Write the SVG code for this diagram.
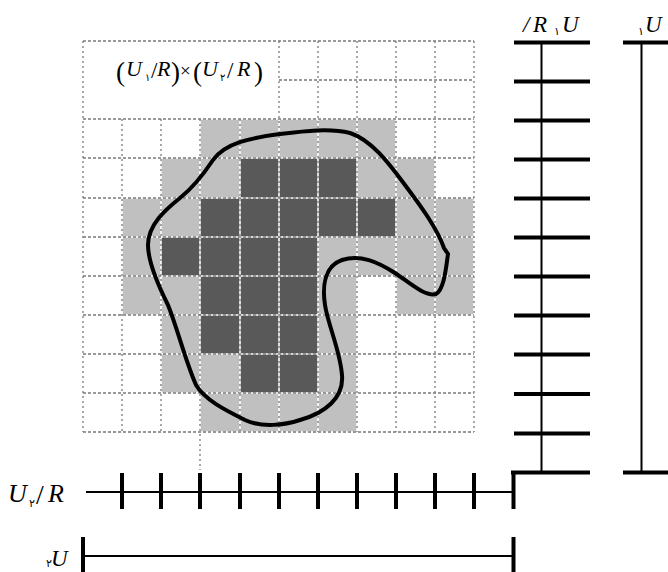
<svg xmlns="http://www.w3.org/2000/svg" width="668" height="572" viewBox="0 0 668 572">
<style>
.l{fill:#c0c0c0}
.d{fill:#595959}
.gw{stroke:#ffffff;stroke-width:1.6;fill:none}
.g{stroke:#7a7a7a;stroke-width:1.3;stroke-dasharray:3 2;fill:none}
.gv{stroke:#7a7a7a;stroke-width:1.3;stroke-dasharray:2 3;fill:none}
.ax{stroke:#000;stroke-width:2;fill:none}
.tk{stroke:#000;stroke-width:4;fill:none}
.t{font-family:"Liberation Serif","DejaVu Serif",serif;font-style:italic;fill:#000}
.p{font-family:"Liberation Serif","DejaVu Serif",serif;fill:#000}
.s{font-family:"DejaVu Sans","Noto Sans",sans-serif;fill:#000}
</style>
<rect width="668" height="572" fill="#fff"/>
<g id="cells">
<rect class="l" x="200" y="119" width="196" height="39"/>
<rect class="l" x="161" y="158" width="79" height="40"/>
<rect class="d" x="240" y="158" width="117" height="40"/>
<rect class="l" x="357" y="158" width="78" height="40"/>
<rect class="l" x="122" y="198" width="78" height="39"/>
<rect class="d" x="200" y="198" width="196" height="39"/>
<rect class="l" x="396" y="198" width="78" height="39"/>
<rect class="l" x="122" y="237" width="39" height="39"/>
<rect class="d" x="161" y="237" width="157" height="39"/>
<rect class="l" x="318" y="237" width="156" height="39"/>
<rect class="l" x="122" y="276" width="78" height="39"/>
<rect class="d" x="200" y="276" width="118" height="39"/>
<rect class="l" x="318" y="276" width="39" height="39"/>
<rect class="l" x="396" y="276" width="78" height="39"/>
<rect class="l" x="161" y="315" width="39" height="39"/>
<rect class="d" x="200" y="315" width="118" height="39"/>
<rect class="l" x="318" y="315" width="39" height="39"/>
<rect class="l" x="161" y="354" width="79" height="39"/>
<rect class="d" x="240" y="354" width="78" height="39"/>
<rect class="l" x="318" y="354" width="39" height="39"/>
<rect class="l" x="200" y="393" width="157" height="39"/>
</g>
<g id="grid">
<path class="gw" d="M83 119H474M83 158H474M83 198H474M83 237H474M83 276H474M83 315H474M83 354H474M83 393H474M83 432H474M122 119V432M161 119V432M200 119V432M240 119V432M279 119V432M318 119V432M357 119V432M396 119V432M435 119V432M474 119V432"/>
<path class="g" d="M83 41H474M279 80H474M83 119H474M83 158H474M83 198H474M83 237H474M83 276H474M83 315H474M83 354H474M83 393H474M83 432H474"/>
<path class="gv" d="M83 41V432M122 119V432M161 119V432M200 119V470M240 119V432M279 41V432M318 41V432M357 41V432M396 41V432M435 41V432M474 41V432"/>
</g>
<g id="region">
<path d="M213 160C225 143 250 138 280 134C305 131 330 128 350 133C372 140 390 165 405 185C420 205 437 228 444 248L448 254C446 268 444 290 436 294C425 297 410 283 395 273C378 262 360 254 342 260C325 266 322 285 325 305C328 325 340 350 342 375C344 398 325 413 300 420C285 425 262 428 245 420C225 410 205 400 196 385C185 360 178 330 168 305C158 285 148 262 148 245C148 225 165 210 180 198C195 186 205 172 213 160Z" fill="none" stroke="#000" stroke-width="4"/>
</g>
<g id="connectors">
<path class="ax" d="M541.5 42V472"/>
<path class="tk" d="M514 42.5H590M514 81.5H590M514 120.5H590M514 159.5H590M514 198.5H590M514 237.5H590M514 276.5H590M514 315.5H590M514 354.5H590M514 394H590M514 433.5H590M511 472.5H590"/>
<path class="tk" d="M513.5 472.5V509"/>
<path class="ax" d="M641.5 42V472"/>
<path class="tk" d="M623 42.5H668M623 472.5H668"/>
<path class="ax" d="M86 492H514"/>
<path class="tk" d="M122 473V509M161 473V509M200 473V509M240 473V509M279 473V509M318 473V509M357 473V509M396 473V509M435 473V509M474 473V509"/>
<path class="ax" d="M83 556H514"/>
<path class="tk" d="M83 537V572M513.5 537V572"/>
</g>
<g id="labels">
<text class="p" x="116" y="81" font-size="27">(</text>
<text class="t" x="126" y="76" font-size="22">U</text>
<text class="s" x="145" y="81" font-size="10">۱</text>
<text class="p" x="151" y="78" font-size="23">/</text>
<text class="t" x="157" y="76" font-size="22">R</text>
<text class="p" x="171" y="81" font-size="27">)</text>
<text class="p" x="180" y="77" font-size="19">×</text>
<text class="p" x="193" y="81" font-size="27">(</text>
<text class="t" x="202" y="76" font-size="22">U</text>
<text class="s" x="220" y="81" font-size="10">۲</text>
<text class="p" x="227" y="78" font-size="23">/</text>
<text class="t" x="237" y="76" font-size="22">R</text>
<text class="p" x="254" y="81" font-size="27">)</text>
<text class="t" x="8" y="502" font-size="26">U</text>
<text class="s" x="29" y="507" font-size="11">۲</text>
<text class="p" x="36" y="504" font-size="28">/</text>
<text class="t" x="48" y="502" font-size="26">R</text>
<text class="s" x="46" y="567" font-size="11">۲</text>
<text class="t" x="51" y="566" font-size="23">U</text>
<text class="t" x="523" y="32" font-size="23">/</text>
<text class="t" x="533" y="32" font-size="23">R</text>
<text class="s" x="554" y="35" font-size="11">۱</text>
<text class="t" x="562" y="32" font-size="23">U</text>
<text class="s" x="638" y="35" font-size="11">۱</text>
<text class="t" x="645" y="32" font-size="23">U</text>
</g>
</svg>
